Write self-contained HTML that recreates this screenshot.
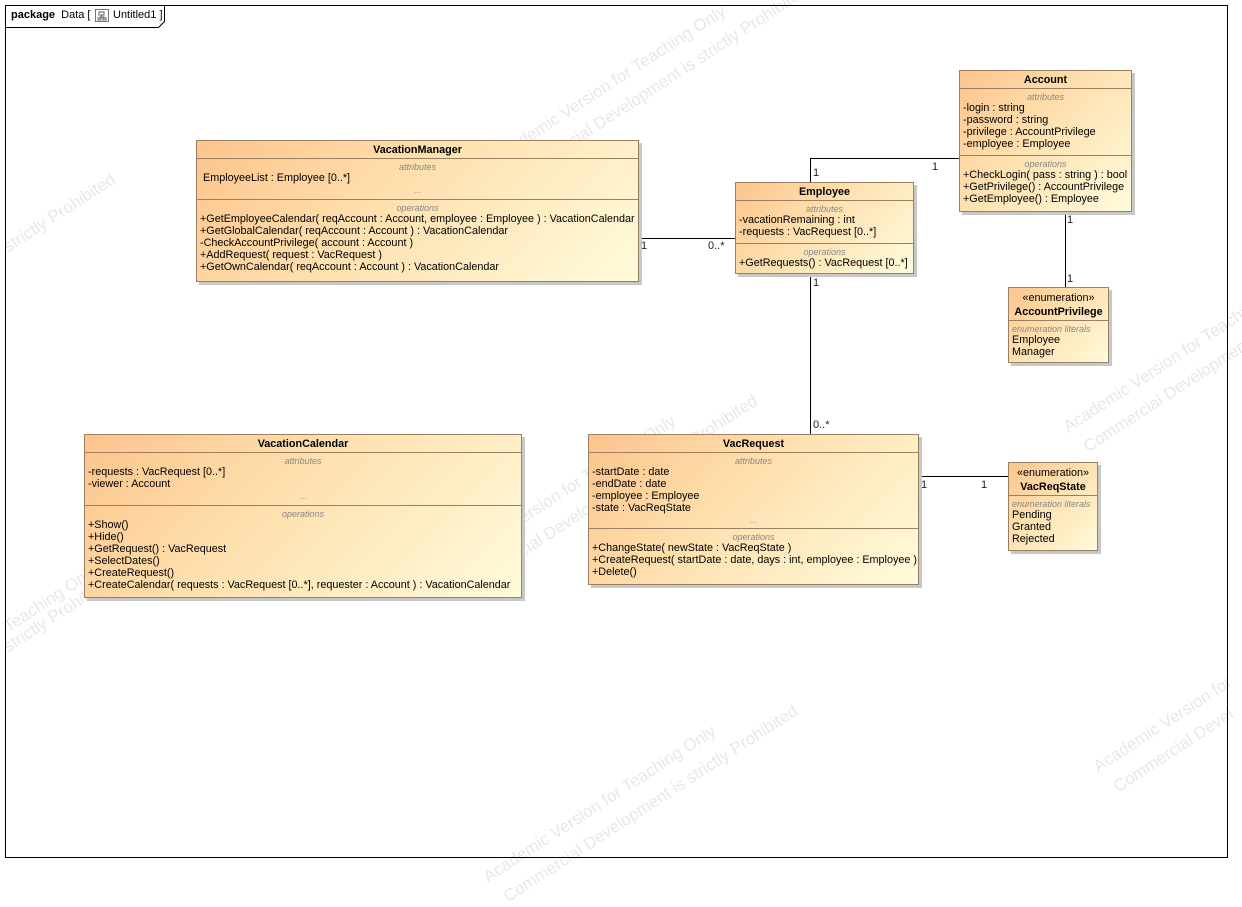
<!DOCTYPE html>
<html><head><meta charset="utf-8"><style>
body{margin:0;width:1242px;height:873px;background:#fff;position:relative;overflow:hidden;font-family:"Liberation Sans",Arial,sans-serif;font-size:10.8px;color:#000}
.c{position:absolute;box-sizing:border-box;border:1px solid #9a8060;background:linear-gradient(135deg,#fdc48c 0%,#fee1b0 45%,#fffbdc 100%);box-shadow:3px 3px 0 #c8c8c8}
.h{box-sizing:border-box;height:18px;line-height:19px;text-align:center;font-weight:bold;border-bottom:1px solid #9a8060}
.p{box-sizing:border-box;padding:3px 3px 0 3px;line-height:12px;white-space:nowrap;border-bottom:1px solid #9a8060}
.p:last-child{border-bottom:none}
.l{font-style:italic;color:#888;font-size:9px;text-align:center;line-height:10px}
.d{text-align:center;color:#999;font-size:9px}
.m{position:absolute;font-size:11px;line-height:12px;color:#222}
.w{position:absolute;color:#e8e8e8;font-size:17px;transform:rotate(-33deg);transform-origin:left top;white-space:nowrap;line-height:20px}
</style></head><body>
<div class="w" style="left:490px;top:150px">Academic Version for Teaching Only</div>
<div class="w" style="left:510px;top:170px">Commercial Development is strictly Prohibited</div>
<div class="w" style="left:0px;top:240px">strictly Prohibited</div>
<div class="w" style="left:440px;top:560px">Academic Version for Teaching Only</div>
<div class="w" style="left:460px;top:580px">Commercial Development is strictly Prohibited</div>
<div class="w" style="left:0px;top:620px">Teaching Only</div>
<div class="w" style="left:0px;top:640px">strictly Prohibited</div>
<div class="w" style="left:1060px;top:420px">Academic Version for Teaching</div>
<div class="w" style="left:1080px;top:440px">Commercial Development</div>
<div class="w" style="left:1090px;top:760px">Academic Version for</div>
<div class="w" style="left:1110px;top:780px">Commercial Devel</div>
<div class="w" style="left:480px;top:870px">Academic Version for Teaching Only</div>
<div class="w" style="left:500px;top:890px">Commercial Development is strictly Prohibited</div>

<svg width="1242" height="873" style="position:absolute;left:0;top:0">
<rect x="5.5" y="5.5" width="1222" height="852" fill="none" stroke="#000"/>
<path d="M5.5 27.5 H158.5 L164.5 21.5 V5.5" fill="none" stroke="#000"/>
<g stroke="#000" fill="none">
<line x1="638" y1="238.5" x2="735" y2="238.5"/>
<path d="M810.5 182 V158.5 H959"/>
<line x1="1065.5" y1="211" x2="1065.5" y2="287"/>
<line x1="810.5" y1="273" x2="810.5" y2="434"/>
<line x1="918" y1="476.5" x2="1008" y2="476.5"/>
<rect x="95.5" y="9.5" width="13" height="12" stroke="#777"/>
<path d="M99 12h5v3h-5z M98 18h3v2h-3z M103 18h3v2h-3z M101.5 15v2 M99.5 17h5" stroke="#666"/>
</g>
</svg>
<div style="position:absolute;left:11px;top:8px;font-size:11px;line-height:14px"><b>package</b>&nbsp; Data [</div>
<div style="position:absolute;left:113px;top:8px;font-size:11px;line-height:14px">Untitled1 ]</div>

<div class="m" style="left:641px;top:240px">1</div>
<div class="m" style="left:708px;top:240px">0..*</div>
<div class="m" style="left:813px;top:167px">1</div>
<div class="m" style="left:932px;top:161px">1</div>
<div class="m" style="left:1067px;top:214px">1</div>
<div class="m" style="left:1067px;top:273px">1</div>
<div class="m" style="left:813px;top:277px">1</div>
<div class="m" style="left:813px;top:419px">0..*</div>
<div class="m" style="left:921px;top:479px">1</div>
<div class="m" style="left:981px;top:479px">1</div>

<div class="c" style="left:196px;top:140px;width:443px;height:142px">
<div class="h">VacationManager</div>
<div class="p" style="height:41px"><div class="l">attributes</div>&nbsp;EmployeeList : Employee [0..*]<div class="d">...</div></div>
<div class="p"><div class="l">operations</div>+GetEmployeeCalendar( reqAccount : Account, employee : Employee ) : VacationCalendar<br>+GetGlobalCalendar( reqAccount : Account ) : VacationCalendar<br>-CheckAccountPrivilege( account : Account )<br>+AddRequest( request : VacRequest )<br>+GetOwnCalendar( reqAccount : Account ) : VacationCalendar</div>
</div>

<div class="c" style="left:735px;top:182px;width:179px;height:92px">
<div class="h">Employee</div>
<div class="p" style="height:43px"><div class="l">attributes</div>-vacationRemaining : int<br>-requests : VacRequest [0..*]</div>
<div class="p"><div class="l">operations</div>+GetRequests() : VacRequest [0..*]</div>
</div>

<div class="c" style="left:959px;top:70px;width:173px;height:142px">
<div class="h">Account</div>
<div class="p" style="height:67px"><div class="l">attributes</div>-login : string<br>-password : string<br>-privilege : AccountPrivilege<br>-employee : Employee</div>
<div class="p"><div class="l">operations</div>+CheckLogin( pass : string ) : bool<br>+GetPrivilege() : AccountPrivilege<br>+GetEmployee() : Employee</div>
</div>

<div class="c" style="left:1008px;top:287px;width:101px;height:76px">
<div class="h" style="height:33px;line-height:14px;padding-top:3px"><span style="font-weight:normal">«enumeration»</span><br>AccountPrivilege</div>
<div class="p"><div class="l" style="text-align:left">enumeration literals</div>Employee<br>Manager</div>
</div>

<div class="c" style="left:84px;top:434px;width:438px;height:164px">
<div class="h">VacationCalendar</div>
<div class="p" style="height:53px"><div class="l">attributes</div>-requests : VacRequest [0..*]<br>-viewer : Account<div class="d">...</div></div>
<div class="p"><div class="l">operations</div>+Show()<br>+Hide()<br>+GetRequest() : VacRequest<br>+SelectDates()<br>+CreateRequest()<br>+CreateCalendar( requests : VacRequest [0..*], requester : Account ) : VacationCalendar</div>
</div>

<div class="c" style="left:588px;top:434px;width:331px;height:151px">
<div class="h">VacRequest</div>
<div class="p" style="height:76px"><div class="l">attributes</div>-startDate : date<br>-endDate : date<br>-employee : Employee<br>-state : VacReqState<div class="d">...</div></div>
<div class="p"><div class="l">operations</div>+ChangeState( newState : VacReqState )<br>+CreateRequest( startDate : date, days : int, employee : Employee )<br>+Delete()</div>
</div>

<div class="c" style="left:1008px;top:462px;width:90px;height:89px">
<div class="h" style="height:33px;line-height:14px;padding-top:3px"><span style="font-weight:normal">«enumeration»</span><br>VacReqState</div>
<div class="p"><div class="l" style="text-align:left">enumeration literals</div>Pending<br>Granted<br>Rejected</div>
</div>
</body></html>
